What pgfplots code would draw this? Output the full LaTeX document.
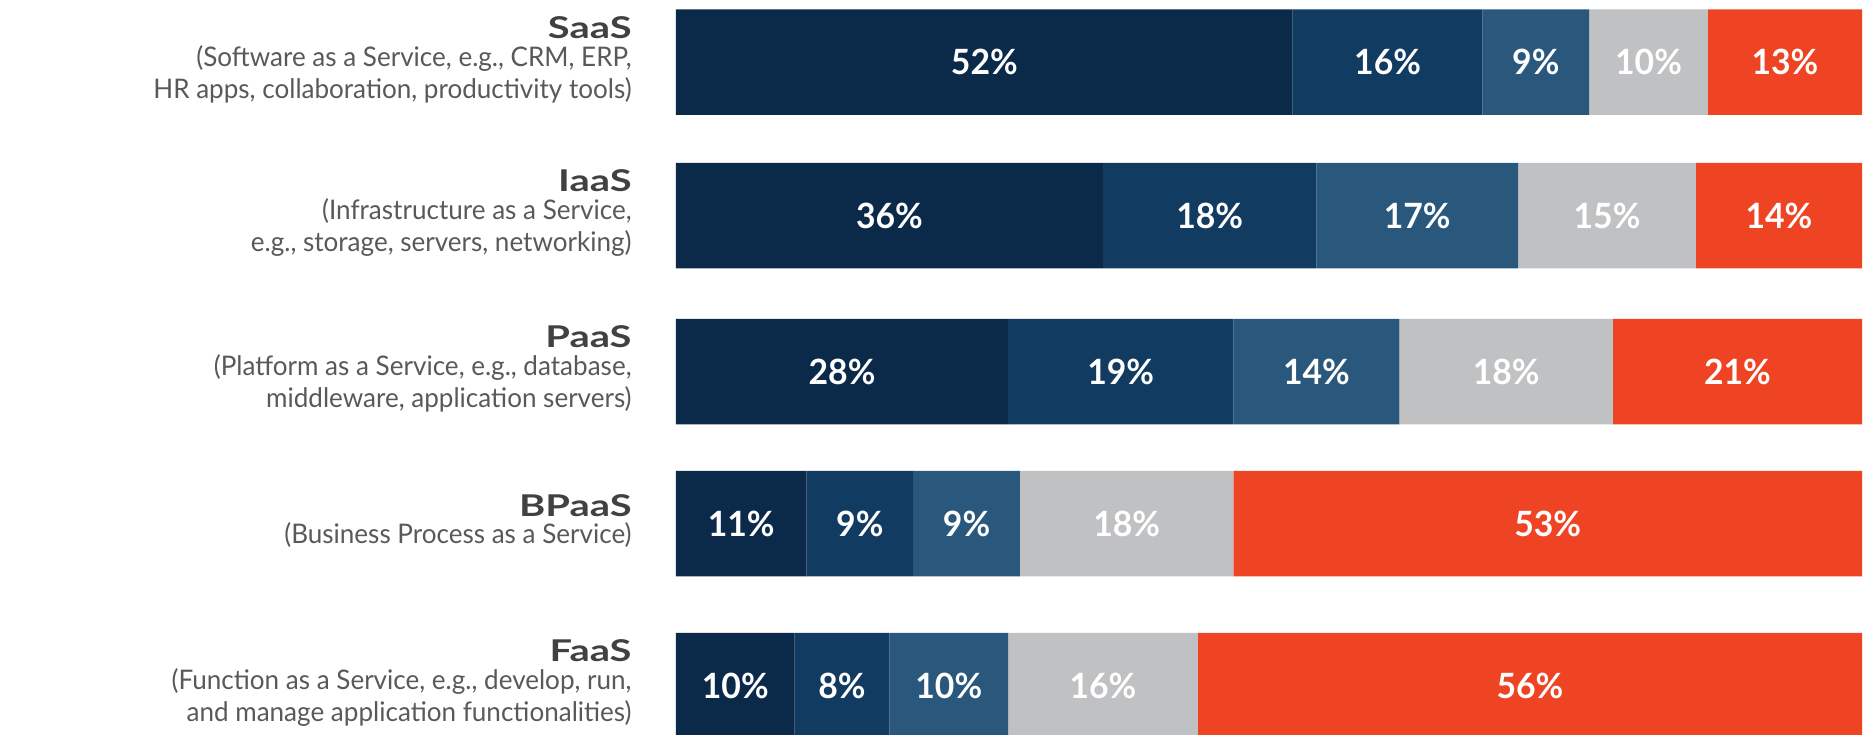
\documentclass[border=0pt]{standalone}
\usepackage{fontspec}
\setmainfont{Lato}
\newfontfamily\descfamily{Lato}[FakeStretch=0.965]
\newfontfamily\namefamily{Lato}[FakeStretch=1.33]
\newfontfamily\numfamily{Lato}[FakeStretch=0.97]
\usepackage{pgfplots}
\usepackage{pgfplotstable}
\pgfplotsset{compat=1.18}

\definecolor{segA}{HTML}{0B2A4A}
\definecolor{segB}{HTML}{123B61}
\definecolor{segC}{HTML}{2A587C}
\definecolor{segD}{HTML}{C0C1C3}
\definecolor{segE}{HTML}{EF4423}
\definecolor{nametext}{HTML}{414042}
\definecolor{desctext}{HTML}{58595B}

\newcommand{\catname}[1]{{\namefamily\bfseries\fontsize{15}{15}\selectfont\color{nametext}#1}}

% row position (top to bottom) and the five shares of each service model
\pgfplotstableread{
y     a  b  c  d  e
62.2  52 16 9  10 13
215.5 36 18 17 15 14
371.5 28 19 14 18 21
523.5 11 9  9  18 53
685.5 10 8  10 16 56
}\shares

\begin{document}
\begin{tikzpicture}
\begin{axis}[
  scale only axis,
  width=593pt, height=367pt,
  xmin=0, xmax=100, ymin=0, ymax=734,
  y dir=reverse,
  xbar stacked,
  bar width=105.5,
  clip=false,
  axis line style={draw=none},
  major tick length=0pt,
  xtick=\empty,
  ytick={62.2,215.5,371.5,523.5,685.5},
  yticklabels={
    {\catname{SaaS}\\[-2.2pt](Software as a Service, e.g., CRM, ERP,\\HR apps, collaboration, productivity tools)},
    {\catname{IaaS}\\[-2.2pt](Infrastructure as a Service, \\e.g., storage, servers, networking)},
    {\catname{PaaS}\\[-2.2pt](Platform as a Service, e.g., database,\\middleware, application servers)},
    {\catname{BPaaS}\\[-2.2pt](Business Process as a Service)},
    {\catname{FaaS}\\[-2.2pt](Function as a Service, e.g., develop, run,\\and manage application functionalities)}
  },
  yticklabel style={align=right, anchor=east, inner sep=0pt, xshift=-22pt, yshift=1.3pt,
    font=\descfamily\fontsize{13.5}{16}\selectfont, text=desctext},
  point meta=explicit,
  % stacked bars put each label in the middle of its own segment
  nodes near coords={\pgfmathprintnumber[assume math mode=true]{\pgfplotspointmeta}\%},
  every node near coord/.append style={anchor=center, text=white, inner sep=0pt,
    font=\numfamily\bfseries\fontsize{17.4}{20}\selectfont},
]
\addplot[fill=segA, draw=none] table[x=a, y=y, meta=a]{\shares};
\addplot[fill=segB, draw=none] table[x=b, y=y, meta=b]{\shares};
\addplot[fill=segC, draw=none] table[x=c, y=y, meta=c]{\shares};
\addplot[fill=segD, draw=none] table[x=d, y=y, meta=d]{\shares};
\addplot[fill=segE, draw=none] table[x=e, y=y, meta=e]{\shares};
\end{axis}
\pgfresetboundingbox
\path[use as bounding box] ([xshift=-338pt]current axis.south west) rectangle ([xshift=1pt]current axis.north east);
\end{tikzpicture}
\end{document}
